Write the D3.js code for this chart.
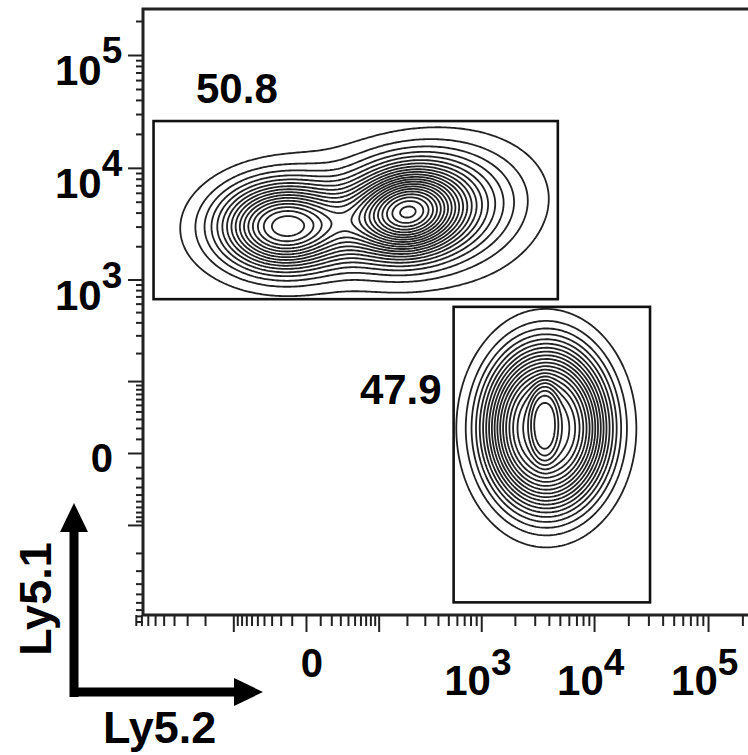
<!DOCTYPE html>
<html>
<head>
<meta charset="utf-8">
<script src="https://cdn.jsdelivr.net/npm/d3@7"></script>
<style>
  body { margin: 0; background: #fff; }
  svg { display: block; font-family: "Liberation Sans", Arial, sans-serif; font-weight: bold; }
</style>
</head>
<body>
<svg id="chart" width="748" height="755"></svg>
<script>
// ---- data ----
// axis tick values (biexponential display, Ly5.2 on x and Ly5.1 on y)
var majorTicks = [0, 1e3, 1e4, 1e5];
var majorLabels = [["0", ""], ["10", "3"], ["10", "4"], ["10", "5"]];
var midTicks = [-100, 100];
var minorTicks = [-900, -800, -700, -600, -500, -400, -300, -200, -90, -80, -70, -60, -50, -40, -30, -20, -10,
  10, 20, 30, 40, 50, 60, 70, 80, 90, 200, 300, 400, 500, 600, 700, 800, 900,
  2000, 3000, 4000, 5000, 6000, 7000, 8000, 9000, 20000, 30000, 40000, 50000, 60000, 70000, 80000, 90000, 200000];

// gates: [xmin, xmax, ymin, ymax] in fluorescence units, with the % of cells in each
var gateNames = ["Ly5.1+", "Ly5.2+"];
var gateBoxes = [[-620, 4800, 660, 26000], [560, 31000, -600, 560]];
var gatePercents = ["50.8", "47.9"];

// cell populations as density blobs: centre (Ly5.2, Ly5.1), spread in decades, tilt (deg),
// shape power (2 = gaussian, higher = flatter top) and weight
var blobPop   = ["Ly5.1", "Ly5.1", "Ly5.1", "Ly5.1", "Ly5.2", "Ly5.2", "Ly5.2"];
var blobX     = [-17, 190, 520, 43, 3800, 3650, 3800];
var blobY     = [3000, 4000, 4400, 3900, 20, 26, 18];
var blobSX    = [0.38, 0.33, 0.44, 0.83, 0.41, 0.105, 0.48];
var blobSY    = [0.26, 0.25, 0.33, 0.37, 0.55, 0.30, 0.60];
var blobTilt  = [0, -12, -10, -8, 0, 0, 0];
var blobPow   = [2.2, 2, 2, 2, 3, 4, 2];
var blobW     = [0.435, 0.50, 0.15, 0.08, 0.515, 0.08, 0.06];

// contour levels (same units as blob weights)
var contourLevels = [0.03, 0.06, 0.09, 0.12, 0.15, 0.18, 0.21, 0.24, 0.27, 0.30, 0.33, 0.36,
  0.39, 0.42, 0.45, 0.48, 0.51, 0.54, 0.57, 0.60, 0.63, 0.66, 0.69, 0.72];

var svg = d3.select("#chart");

// plot area
var plotL = 143, plotR = 748, plotT = 9, plotB = 615;

var x = d3.scaleSymlog().constant(30).domain([-774, 224000]).range([plotL, plotR]);
var y = d3.scaleSymlog().constant(30).domain([-785, 255500]).range([plotB, plotT]);
var decPx = x(1e5) - x(1e4);   // pixels in one decade

// ---- contours ----
var cell = 2;
var nx = Math.ceil((plotR - plotL) / cell), ny = Math.ceil((plotB - plotT) / cell);
var blobs = blobX.map(function(d, i) {
  var t = blobTilt[i] * Math.PI / 180;
  return {cx: x(blobX[i]), cy: y(blobY[i]), sx: blobSX[i] * decPx, sy: blobSY[i] * decPx,
          cos: Math.cos(t), sin: Math.sin(t), p: blobPow[i], w: blobW[i]};
});
var values = new Float64Array(nx * ny);
for (var j = 0; j < ny; j++) {
  for (var i = 0; i < nx; i++) {
    var px = plotL + (i + 0.5) * cell, py = plotT + (j + 0.5) * cell, v = 0;
    blobs.forEach(function(b) {
      var dx = px - b.cx, dy = py - b.cy;
      var u = (dx * b.cos + dy * b.sin) / b.sx, w = (-dx * b.sin + dy * b.cos) / b.sy;
      v += b.w * Math.exp(-0.5 * Math.pow(u * u + w * w, b.p / 2));
    });
    values[i + j * nx] = v;
  }
}
var contours = d3.contours().size([nx, ny]).thresholds(contourLevels)(values);
var path = d3.geoPath(d3.geoIdentity().scale(cell).translate([plotL, plotT]));

svg.append("g")
  .selectAll("path")
  .data(contours)
  .join("path")
    .attr("d", path)
    .attr("fill", "none")
    .attr("stroke", "#222")
    .attr("stroke-width", 1.8);

// ---- frame ----
svg.append("rect")
  .attr("x", plotL).attr("y", plotT)
  .attr("width", plotR - plotL + 10).attr("height", plotB - plotT)
  .attr("fill", "none").attr("stroke", "#222").attr("stroke-width", 3);

// ---- axes ----
function styleAxis(g) {
  g.select(".domain").remove();
  g.selectAll(".tick line").attr("stroke", "#222").attr("stroke-width", 2);
  g.selectAll(".tick text").remove();
}
svg.append("g").attr("transform", "translate(0," + plotB + ")")
  .call(d3.axisBottom(x).tickValues(minorTicks).tickSize(11)).call(styleAxis);
svg.append("g").attr("transform", "translate(0," + plotB + ")")
  .call(d3.axisBottom(x).tickValues(majorTicks.concat(midTicks)).tickSize(17)).call(styleAxis);
svg.append("g").attr("transform", "translate(" + plotL + ",0)")
  .call(d3.axisLeft(y).tickValues(minorTicks).tickSize(7)).call(styleAxis);
svg.append("g").attr("transform", "translate(" + plotL + ",0)")
  .call(d3.axisLeft(y).tickValues(majorTicks.concat(midTicks)).tickSize(15)).call(styleAxis);

// tick labels, exponent as a raised tspan
majorTicks.forEach(function(v, i) {
  var base = majorLabels[i][0], sup = majorLabels[i][1];
  if (!sup) {
    svg.append("text").attr("x", x(v) + 6).attr("y", 677).attr("text-anchor", "middle")
      .attr("font-size", 40).text(base);
    svg.append("text").attr("x", 113).attr("y", y(v) + 19).attr("text-anchor", "end")
      .attr("font-size", 40).text(base);
    return;
  }
  var tx = svg.append("text").attr("x", x(v) - 37).attr("y", 695).attr("font-size", 42);
  tx.append("tspan").text(base);
  tx.append("tspan").attr("dy", -20).attr("font-size", 37).text(sup);
  var ty = svg.append("text").attr("x", 55).attr("y", y(v) + 30).attr("font-size", 42);
  ty.append("tspan").text(base);
  ty.append("tspan").attr("dy", -22).attr("font-size", 37).text(sup);
});

// ---- gates ----
gateBoxes.forEach(function(b, i) {
  svg.append("rect")
    .attr("class", "gate " + gateNames[i])
    .attr("x", x(b[0])).attr("y", y(b[3]))
    .attr("width", x(b[1]) - x(b[0])).attr("height", y(b[2]) - y(b[3]))
    .attr("fill", "none").attr("stroke", "#111").attr("stroke-width", 2.6);
});
svg.append("text").attr("x", 196).attr("y", 103).attr("font-size", 42).text(gatePercents[0]);
svg.append("text").attr("x", x(gateBoxes[1][0]) - 12).attr("y", 404).attr("text-anchor", "end")
  .attr("font-size", 42).text(gatePercents[1]);

// ---- axis arrows ----
svg.append("line").attr("x1", 74).attr("y1", 697).attr("x2", 74).attr("y2", 528)
  .attr("stroke", "#000").attr("stroke-width", 9);
svg.append("path").attr("d", "M74,503L60,532L88,532Z").attr("fill", "#000");
svg.append("line").attr("x1", 70).attr("y1", 692).attr("x2", 238).attr("y2", 692)
  .attr("stroke", "#000").attr("stroke-width", 9);
svg.append("path").attr("d", "M263,692L234,678L234,706Z").attr("fill", "#000");

svg.append("text").attr("transform", "translate(51,599) rotate(-90)").attr("text-anchor", "middle")
  .attr("font-size", 45).text("Ly5.1");
svg.append("text").attr("x", 103).attr("y", 743).attr("font-size", 45).text("Ly5.2");
</script>
</body>
</html>
